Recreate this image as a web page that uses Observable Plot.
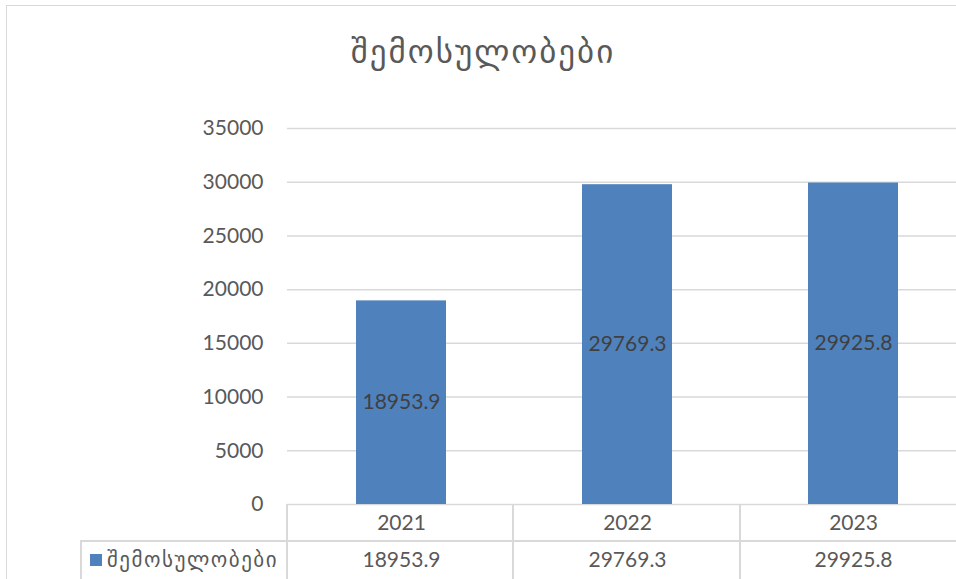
<!DOCTYPE html>
<html><head><meta charset="utf-8">
<script src="https://cdn.jsdelivr.net/npm/d3@7"></script>
<script src="https://cdn.jsdelivr.net/npm/@observablehq/plot@0.6"></script>
<style>
body{margin:0;background:#fff;}
#wrap{position:relative;width:956px;height:579px;overflow:hidden;background:#fff;}
#frame{position:absolute;left:6px;top:5px;width:1000px;height:700px;border:1.5px solid #d9d9d9;box-sizing:border-box;}
#title{position:absolute;left:0;width:966px;top:32px;text-align:center;font-family:"DejaVu Sans";font-size:33px;letter-spacing:2px;color:#595959;line-height:40px;}
.ln{position:absolute;background:#d9d9d9;}
#chart{position:absolute;left:0;top:0;width:967px;}
#legend{position:absolute;left:90px;top:548px;height:24px;display:flex;align-items:center;font-family:"DejaVu Sans";font-size:21px;letter-spacing:1.5px;color:#595959;white-space:nowrap;}
#legend .sw{width:12px;height:12px;background:#4f81bd;margin-right:5px;}
</style></head>
<body>
<div id="wrap">
  <div id="frame"></div>
  <div id="title"></div>
  <div id="chart"></div>
  <div class="ln" style="left:80px;top:540px;width:900px;height:1.5px"></div>
  <div class="ln" style="left:80px;top:541px;width:1.5px;height:40px"></div>
  <div class="ln" style="left:286px;top:504px;width:1.5px;height:80px"></div>
  <div class="ln" style="left:512px;top:504px;width:1.5px;height:80px"></div>
  <div class="ln" style="left:739px;top:504px;width:1.5px;height:80px"></div>
  <div id="legend"><div class="sw"></div><span id="legtext"></span></div>
</div>
<script>
const titleText = "შემოსულობები";
const seriesName = "შემოსულობები";
const years = ["2021", "2022", "2023"];
const values = [18953.9, 29769.3, 29925.8];
const yTicks = [0, 5000, 10000, 15000, 20000, 25000, 30000, 35000];

const data = years.map((y, i) => ({year: y, value: values[i]}));
document.getElementById("title").textContent = titleText;
document.getElementById("legtext").textContent = seriesName;

const chart = Plot.plot({
  width: 967, height: 579,
  marginLeft: 287, marginRight: 0, marginTop: 128, marginBottom: 75,
  style: {fontFamily: "Lato", fontSize: "21px", color: "#595959", background: "transparent", overflow: "visible", maxWidth: "none"},
  x: {domain: years, padding: 0, axis: null},
  y: {domain: [0, 35000], axis: null},
  marks: [
    Plot.gridY(yTicks, {stroke: "#d9d9d9", strokeOpacity: 1, strokeWidth: 1.5}),
    Plot.axisY(yTicks, {tickSize: 0, tickPadding: 24, tickFormat: d => String(d), label: null, fill: "#595959", fontSize: 21}),
    Plot.barY(data, {x: "year", y: "value", fill: "#4f81bd", insetLeft: 68, insetRight: 68}),
    Plot.text(data, {x: "year", y: d => d.value / 2, text: d => d.value.toFixed(1), fill: "#404040", fontSize: 21}),
    Plot.text(data, {x: "year", y: 0, text: "year", dy: 19, fill: "#595959", fontSize: 21}),
    Plot.text(data, {x: "year", y: 0, text: d => d.value.toFixed(1), dy: 56, fill: "#595959", fontSize: 21})
  ]
});
document.getElementById("chart").appendChild(chart);
</script>
</body></html>
